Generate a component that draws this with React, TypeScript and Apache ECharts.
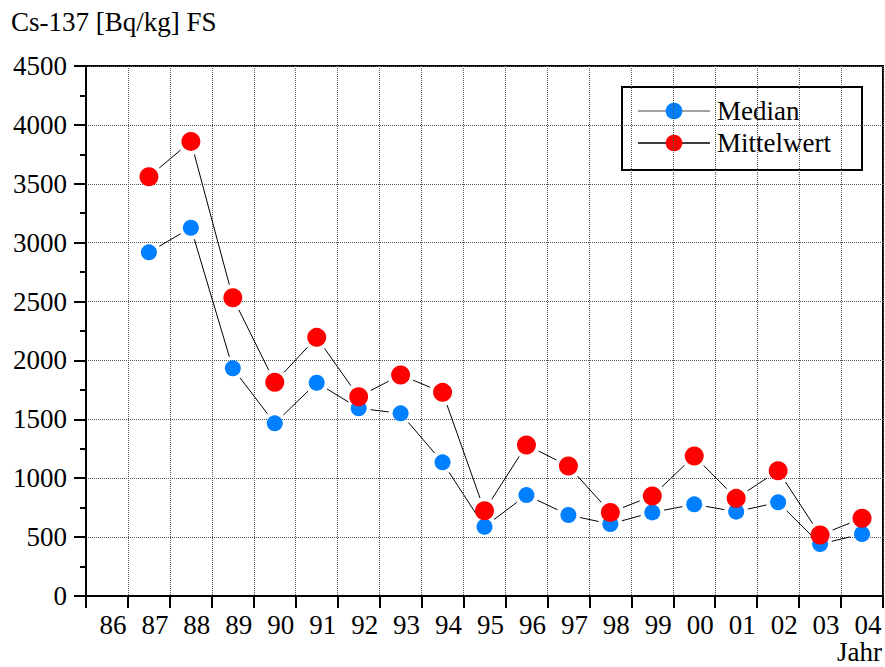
import React, { useEffect, useRef } from "react";
import * as echarts from "echarts";

const years = ["86", "87", "88", "89", "90", "91", "92", "93", "94", "95", "96", "97", "98", "99", "00", "01", "02", "03", "04"];
const median: (number | null)[] = [null, 2918, 3127, 1933, 1466, 1811, 1594, 1551, 1135, 588, 857, 688, 611, 710, 778, 716, 795, 441, 526];
const mittelwert: (number | null)[] = [null, 3560, 3860, 2533, 1814, 2196, 1692, 1876, 1729, 724, 1282, 1104, 710, 849, 1189, 829, 1064, 518, 660];
const yMin = 0;
const yMax = 4500;
const yStep = 500;

const FONT = "Liberation Serif";
const FS = 27;
const BLUE = "#0080ff";
const RED = "#ff0000";

function segments(vals: (number | null)[]) {
  const out: number[][] = [];
  for (let i = 0; i < vals.length - 1; i++) {
    const a = vals[i];
    const b = vals[i + 1];
    if (a != null && b != null) out.push([i, a, i + 1, b]);
  }
  return out;
}

function gapLine(gap: number) {
  return (params: any, api: any) => {
    const p1 = api.coord([api.value(0), api.value(1)]);
    const p2 = api.coord([api.value(2), api.value(3)]);
    const dx = p2[0] - p1[0];
    const dy = p2[1] - p1[1];
    const len = Math.sqrt(dx * dx + dy * dy);
    if (len <= gap * 2) return null;
    const ux = dx / len;
    const uy = dy / len;
    return {
      type: "line",
      shape: {
        x1: p1[0] + ux * gap,
        y1: p1[1] + uy * gap,
        x2: p2[0] - ux * gap,
        y2: p2[1] - uy * gap,
      },
      style: { stroke: "#000", lineWidth: 1 },
    };
  };
}

export default function App() {
  const ref = useRef<HTMLDivElement>(null);
  useEffect(() => {
    if (!ref.current) return;
    const chart = echarts.init(ref.current, null, { renderer: "svg" });
    chart.setOption({
      animation: false,
      backgroundColor: "#fff",
      grid: {
        left: 86,
        right: 2,
        top: 66,
        bottom: 71,
        show: true,
        borderColor: "#000",
        borderWidth: 2,
      },
      xAxis: {
        type: "category",
        data: years,
        boundaryGap: true,
        axisLine: { lineStyle: { color: "#000", width: 2 } },
        axisTick: { show: true, interval: 0, length: 12, lineStyle: { color: "#000", width: 2 } },
        axisLabel: {
          interval: 0,
          margin: 15,
          color: "#000",
          fontFamily: FONT,
          fontSize: FS,
          padding: [0, 0, 0, 12],
        },
        splitLine: { show: true, interval: 0, lineStyle: { color: "#555", type: "dotted", width: 1 } },
      },
      yAxis: {
        type: "value",
        min: yMin,
        max: yMax,
        interval: yStep,
        axisLine: { show: true, lineStyle: { color: "#000", width: 2 } },
        axisTick: { show: true, length: 12, lineStyle: { color: "#000", width: 2 } },
        minorTick: { show: true, splitNumber: 2, length: 6, lineStyle: { color: "#000", width: 2 } },
        axisLabel: {
          margin: 19,
          color: "#000",
          fontFamily: FONT,
          fontSize: FS,
          formatter: (v: number) => String(v),
        },
        splitLine: { show: true, lineStyle: { color: "#555", type: "dotted", width: 1 } },
      },
      series: [
        {
          type: "custom",
          name: "MedianLine",
          renderItem: gapLine(12),
          data: segments(median),
          encode: { x: [0, 2], y: [1, 3] },
          z: 2,
          silent: true,
        },
        {
          type: "custom",
          name: "MittelwertLine",
          renderItem: gapLine(13.5),
          data: segments(mittelwert),
          encode: { x: [0, 2], y: [1, 3] },
          z: 2,
          silent: true,
        },
        {
          type: "scatter",
          name: "Median",
          data: median,
          symbol: "circle",
          symbolSize: 16,
          itemStyle: { color: BLUE, opacity: 1 },
          z: 3,
        },
        {
          type: "scatter",
          name: "Mittelwert",
          data: mittelwert,
          symbol: "circle",
          symbolSize: 19,
          itemStyle: { color: RED, opacity: 1 },
          z: 4,
        },
      ],
      graphic: [
        {
          type: "text",
          x: 11,
          y: 22,
          style: { text: "Cs-137 [Bq/kg] FS", fontFamily: FONT, fontSize: FS, fill: "#000", verticalAlign: "middle" },
        },
        {
          type: "text",
          x: 882,
          y: 652,
          style: {
            text: "Jahr",
            fontFamily: FONT,
            fontSize: FS,
            fill: "#000",
            align: "right",
            verticalAlign: "middle",
          },
        },
        {
          type: "group",
          z: 100,
          children: [
            {
              type: "rect",
              shape: { x: 622, y: 87, width: 240, height: 83 },
              style: { fill: "#fff", stroke: "#000", lineWidth: 2 },
            },
            {
              type: "line",
              shape: { x1: 638, y1: 111, x2: 710, y2: 111 },
              style: { stroke: "#808080", lineWidth: 1.5 },
            },
            {
              type: "circle",
              shape: { cx: 674, cy: 111, r: 8.3 },
              style: { fill: BLUE },
            },
            {
              type: "text",
              x: 717,
              y: 111,
              style: { text: "Median", fontFamily: FONT, fontSize: FS, fill: "#000", verticalAlign: "middle" },
            },
            {
              type: "line",
              shape: { x1: 638, y1: 143, x2: 710, y2: 143 },
              style: { stroke: "#000", lineWidth: 1.5 },
            },
            {
              type: "circle",
              shape: { cx: 674, cy: 143, r: 8.3 },
              style: { fill: RED },
            },
            {
              type: "text",
              x: 717,
              y: 143,
              style: { text: "Mittelwert", fontFamily: FONT, fontSize: FS, fill: "#000", verticalAlign: "middle" },
            },
          ],
        },
      ],
    });
    return () => chart.dispose();
  }, []);
  return (
    <div
      ref={ref}
      style={{ position: "fixed", left: 0, top: 0, width: 885, height: 667 }}
    />
  );
}
